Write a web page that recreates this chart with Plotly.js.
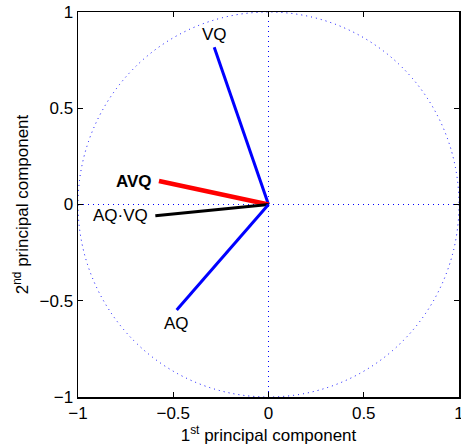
<!DOCTYPE html>
<html><head><meta charset="utf-8">
<script src="https://cdn.plot.ly/plotly-3.0.1.min.js"></script>
<style>body{margin:0;background:#fff}#chart{width:461px;height:446px}</style>
</head><body><div id="chart"></div>
<script>
// Loadings (1st, 2nd principal component)
const labels = ["VQ", "AVQ", "AQ\u00b7VQ", "AQ"];
const pc1 = [-0.285, -0.575, -0.594, -0.482];
const pc2 = [0.817, 0.122, -0.058, -0.548];
const colors = ["#0000ff", "#ff0000", "#000000", "#0000ff"];
const widths = [3, 4.5, 3, 3];
const bold = [false, true, false, false];
const tickVals = [-1, -0.5, 0, 0.5, 1];
const tickText = ["\u22121", "\u22120.5", "0", "0.5", "1"];

const FONT = "Liberation Sans, Arial, sans-serif";

const traces = labels.map((lab, i) => ({
  type: "scatter", mode: "lines",
  x: [0, pc1[i]], y: [0, pc2[i]],
  line: {color: colors[i], width: widths[i]},
  hoverinfo: "skip", showlegend: false
}));

const pos = [
  {xanchor: "center", yanchor: "bottom", xshift: 0, yshift: 1},
  {xanchor: "right", yanchor: "middle", xshift: -5, yshift: 0},
  {xanchor: "right", yanchor: "middle", xshift: -5, yshift: 0},
  {xanchor: "center", yanchor: "top", xshift: 0, yshift: -2}
];
const annotations = labels.map((lab, i) => Object.assign({
  x: pc1[i], y: pc2[i], xref: "x", yref: "y",
  text: bold[i] ? "<b>" + lab + "</b>" : lab,
  showarrow: false,
  font: {family: FONT, size: 17, color: "#000"}
}, pos[i]));

const dotLine = {color: "#0000ff", width: 1, dash: "1px,4px"};
const shapes = [
  {type: "circle", xref: "x", yref: "y", x0: -1, x1: 1, y0: -1, y1: 1, line: dotLine, layer: "below"},
  {type: "line", xref: "x", yref: "y", x0: 0, x1: 0, y0: -1, y1: 1, line: dotLine, layer: "below"},
  {type: "line", xref: "x", yref: "y", x0: -1, x1: 1, y0: 0, y1: 0, line: dotLine, layer: "below"}
];

const axisCommon = {
  range: [-1, 1], tickvals: tickVals, ticktext: tickText,
  showgrid: false, zeroline: false,
  showline: true, linecolor: "#000", linewidth: 1.5, mirror: "ticks",
  ticks: "inside", ticklen: 5, tickcolor: "#000", tickwidth: 1,
  ticklabeloverflow: "allow",
  tickfont: {family: FONT, size: 17, color: "#000"},
  fixedrange: true
};

const layout = {
  width: 461, height: 446,
  margin: {l: 78, r: 2, t: 12, b: 49},
  paper_bgcolor: "#fff", plot_bgcolor: "#fff",
  xaxis: Object.assign({}, axisCommon, {
    title: {text: "1<sup>st</sup> principal component", standoff: 4,
      font: {family: FONT, size: 17, color: "#000"}}
  }),
  yaxis: Object.assign({}, axisCommon, {
    title: {text: "2<sup>nd</sup> principal component", standoff: 6,
      font: {family: FONT, size: 17, color: "#000"}}
  }),
  shapes: shapes, annotations: annotations, showlegend: false
};

Plotly.newPlot("chart", traces, layout, {displayModeBar: false, staticPlot: true});
</script></body></html>
